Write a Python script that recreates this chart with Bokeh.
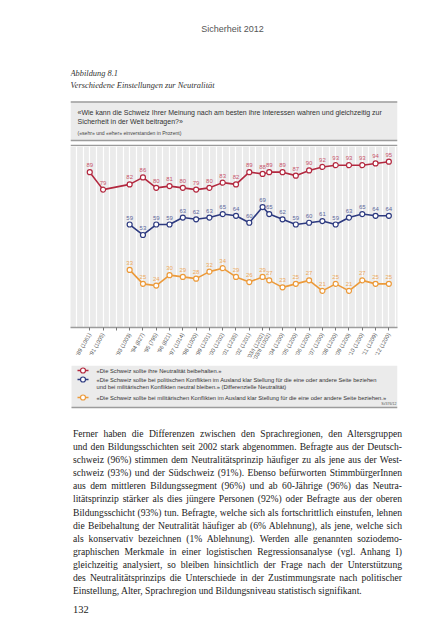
import math
from bokeh.plotting import figure
from bokeh.models import Range1d, FixedTicker, ColumnDataSource, Div
from bokeh.layouts import column
from bokeh.embed import file_html
from bokeh.resources import INLINE
from bokeh.core.properties import value

# ---------------- data ----------------
wave_labels = ["'89 (1061)", "'91 (1005)", "'93 (1003)", "'94 (827)", "'95 (795)",
               "'96 (821)", "'97 (1014)", "'98 (1000)", "'99 (1201)", "'00 (1202)",
               "'01 (1235)", "'02 (1201)", "'03/I (1202)", "'03/II (1002)", "'04 (1200)",
               "'05 (1200)", "'06 (1200)", "'07 (1200)", "'08 (1200)", "'09 (1200)",
               "'10 (1200)", "'11 (1209)", "'12 (1200)"]
# category slot of each survey wave on the x axis (1992 is an empty slot)
wave_slot = [0, 1, 3, 4, 5, 6, 7, 8, 9, 10, 11, 12, 13, 13.5, 14.5, 15.5, 16.5,
             17.5, 18.5, 19.5, 20.5, 21.5, 22.5]
empty_slots = [2]

keep_neutrality = [89, 79, 82, 86, 80, 81, 80, 79, 80, 83, 82, 89, 88, 89, 89, 87,
                   90, 92, 93, 93, 93, 94, 95]
# the two other series start with the 1993 wave
differential_neutrality = [59, 53, 59, 59, 63, 62, 63, 65, 64, 60, 69, 65, 62, 59,
                           60, 61, 59, 63, 65, 64, 64]
take_sides = [33, 25, 24, 30, 29, 28, 32, 34, 29, 26, 29, 27, 23, 25, 27, 21, 25,
              21, 27, 25, 25]

legend_texts = [
    ["«Die Schweiz sollte ihre Neutralität beibehalten.»"],
    ["«Die Schweiz sollte bei politischen Konflikten im Ausland klar Stellung für die eine oder andere Seite beziehen",
     "und bei militärischen Konflikten neutral bleiben.» (Differenzielle Neutralität)"],
    ["«Die Schweiz sollte bei militärischen Konflikten im Ausland klar Stellung für die eine oder andere Seite beziehen.»"],
]

paragraph = [
    "Ferner haben die Differenzen zwischen den Sprachregionen, den Altersgruppen",
    "und den Bildungsschichten seit 2002 stark abgenommen. Befragte aus der Deutsch-",
    "schweiz (96%) stimmen dem Neutralitätsprinzip häufiger zu als jene aus der West-",
    "schweiz (93%) und der Südschweiz (91%). Ebenso befürworten StimmbürgerInnen",
    "aus dem mittleren Bildungssegment (96%) und ab 60-Jährige (96%) das Neutra-",
    "litätsprinzip stärker als dies jüngere Personen (92%) oder Befragte aus der oberen",
    "Bildungsschicht (93%) tun. Befragte, welche sich als fortschrittlich einstufen, lehnen",
    "die Beibehaltung der Neutralität häufiger ab (6% Ablehnung), als jene, welche sich",
    "als konservativ bezeichnen (1% Ablehnung). Werden alle genannten soziodemo-",
    "graphischen Merkmale in einer logistischen Regressionsanalyse (vgl. Anhang I)",
    "gleichzeitig analysiert, so bleiben hinsichtlich der Frage nach der Unterstützung",
    "des Neutralitätsprinzips die Unterschiede in der Zustimmungsrate nach politischer",
    "Einstellung, Alter, Sprachregion und Bildungsniveau statistisch signifikant.",
]

# ---------------- styles ----------------
SANS = value("Liberation Sans")
SERIFF = value("Liberation Serif")
RED, BLUE, ORANGE = "#b3283f", "#2d3a80", "#ec9a3a"
RED_L, BLUE_L, ORANGE_L = "#c8566c", "#5d689c", "#eeaa5c"
BOX_GRAY = "#ebebeb"
RULE = "#9c9c9c"
W = 435
FL, FR = 70, 397          # frame edges shared by all figures (page px)


def deco_fig(h, y_top):
    p = figure(width=W, height=h, x_range=Range1d(FL, FR),
               y_range=Range1d(y_top + h, y_top), toolbar_location=None,
               output_backend="svg", x_axis_location=None, y_axis_location=None,
               min_border_left=FL, min_border_right=W - FR, min_border_top=0,
               min_border_bottom=0, outline_line_color=None,
               background_fill_color="white", border_fill_color="white")
    p.grid.visible = False
    return p


# ---------------- top: header, caption, title box ----------------
top = deco_fig(146, 0)
top.text(x=[232], y=[28], text=["Sicherheit 2012"], text_align="center",
         text_baseline="middle", text_font=SANS, text_font_size="9px",
         text_color="#555555")
top.text(x=[70, 70], y=[73, 85],
         text=["Abbildung 8.1", "Verschiedene Einstellungen zur Neutralität"],
         text_align="left", text_baseline="middle", text_font=SERIFF,
         text_font_style="italic", text_font_size="8.4px", text_color="#333333")
top.quad(left=[70], right=[397], top=[101], bottom=[140], fill_color=BOX_GRAY,
         line_color=None)
top.segment(x0=[70, 70, 70], x1=[397, 397, 397], y0=[101.5, 140, 145],
            y1=[101.5, 140, 145], line_color=RULE, line_width=1.5)
top.text(x=[77, 77], y=[112, 121],
         text=["«Wie kann die Schweiz Ihrer Meinung nach am besten ihre Interessen wahren und gleichzeitig zur",
               "Sicherheit in der Welt beitragen?»"],
         text_align="left", text_baseline="middle", text_font=SANS,
         text_font_size="7px", text_color="#333333")
top.text(x=[77], y=[132], text=["(«sehr» und «eher» einverstanden in Prozent)"],
         text_align="left", text_baseline="middle", text_font=SANS,
         text_font_size="5.1px", text_color="#444444")

# ---------------- chart ----------------
chart = figure(width=W, height=219, x_range=Range1d(-1.45, 23.15),
               y_range=Range1d(0, 103.7), toolbar_location=None,
               output_backend="svg", y_axis_location=None,
               min_border_left=FL, min_border_right=W - FR, min_border_top=0,
               min_border_bottom=38, outline_line_color=None,
               background_fill_color=BOX_GRAY, border_fill_color="white")
chart.ygrid.visible = False
chart.xgrid.ticker = FixedTicker(ticks=[-1 + 0.5 * i for i in range(49)])
chart.xgrid.grid_line_color = "white"
chart.xgrid.grid_line_width = 1.2

ticks = sorted(wave_slot + empty_slots)
overrides = {}
for s, lab in zip(wave_slot, wave_labels):
    overrides[int(s) if float(s).is_integer() else s] = lab
for s in empty_slots:
    overrides[s] = ""
ax = chart.xaxis[0]
ax.ticker = FixedTicker(ticks=ticks)
ax.major_label_overrides = overrides
ax.major_label_orientation = math.pi / 3
ax.major_label_text_font = "Liberation Sans"
ax.major_label_text_font_size = "5.6px"
ax.major_label_text_color = "#555555"
ax.major_label_standoff = 3
ax.axis_line_color = RULE
ax.axis_line_width = 1.5
ax.major_tick_line_color = "#777777"
ax.major_tick_in = 0
ax.major_tick_out = 3
ax.minor_tick_line_color = None

series = [
    (wave_slot, keep_neutrality, RED, RED_L),
    (wave_slot[2:], differential_neutrality, BLUE, BLUE_L),
    (wave_slot[2:], take_sides, ORANGE, ORANGE_L),
]
for xs, ys, col, lcol in series:
    src = ColumnDataSource(dict(x=xs, y=ys, t=[str(v) for v in ys]))
    chart.line("x", "y", source=src, line_color=col, line_width=1.6)
    chart.scatter("x", "y", source=src, size=5, fill_color="white",
                  line_color=col, line_width=1.2)
    chart.text("x", "y", text="t", source=src, y_offset=-7, text_align="center",
               text_baseline="middle", text_font=SANS, text_font_size="6px",
               text_color=lcol)

# ---------------- legend box ----------------
leg = deco_fig(50, 365)
leg.quad(left=[71], right=[397], top=[365], bottom=[407], fill_color=BOX_GRAY,
         line_color=None)
leg.segment(x0=[71], x1=[397], y0=[407], y1=[407], line_color=RULE, line_width=1.5)
row_y = [370, 379, 397]
for (xs, ys, col, lcol), texts, ry in zip(series, legend_texts, row_y):
    leg.segment(x0=[77], x1=[88], y0=[ry], y1=[ry], line_color=col, line_width=1.6)
    leg.scatter(x=[82.5], y=[ry], size=5, fill_color="white", line_color=col,
                line_width=1.2)
    leg.text(x=[96] * len(texts), y=[ry + 7.5 * i for i in range(len(texts))],
             text=texts, text_align="left", text_baseline="middle",
             text_font=SANS, text_font_size="5.75px", text_color="#333333")
leg.text(x=[396], y=[403], text=["Si/376/12"], text_align="right",
         text_baseline="middle", text_font=SANS, text_font_size="3.6px",
         text_color="#555555")

# ---------------- body text ----------------
line_divs = []
for i, ln in enumerate(paragraph):
    last = i == len(paragraph) - 1
    align = "left" if last else "justify"
    line_divs.append(
        f"<div style='text-align:{align};text-align-last:{align};white-space:nowrap'>{ln}</div>")
html = ("<div style='font-family:\"Liberation Serif\";font-size:9.6px;line-height:13.1px;"
        "color:#222;width:329px;margin-left:68px;padding-top:7px'>"
        + "".join(line_divs)
        + "<div style='margin-top:6px;font-size:10.5px'>132</div></div>")
body = Div(text=html, width=W, height=220)

page = column(top, chart, leg, body, spacing=0)
open("out.html", "w").write(file_html(page, INLINE))
